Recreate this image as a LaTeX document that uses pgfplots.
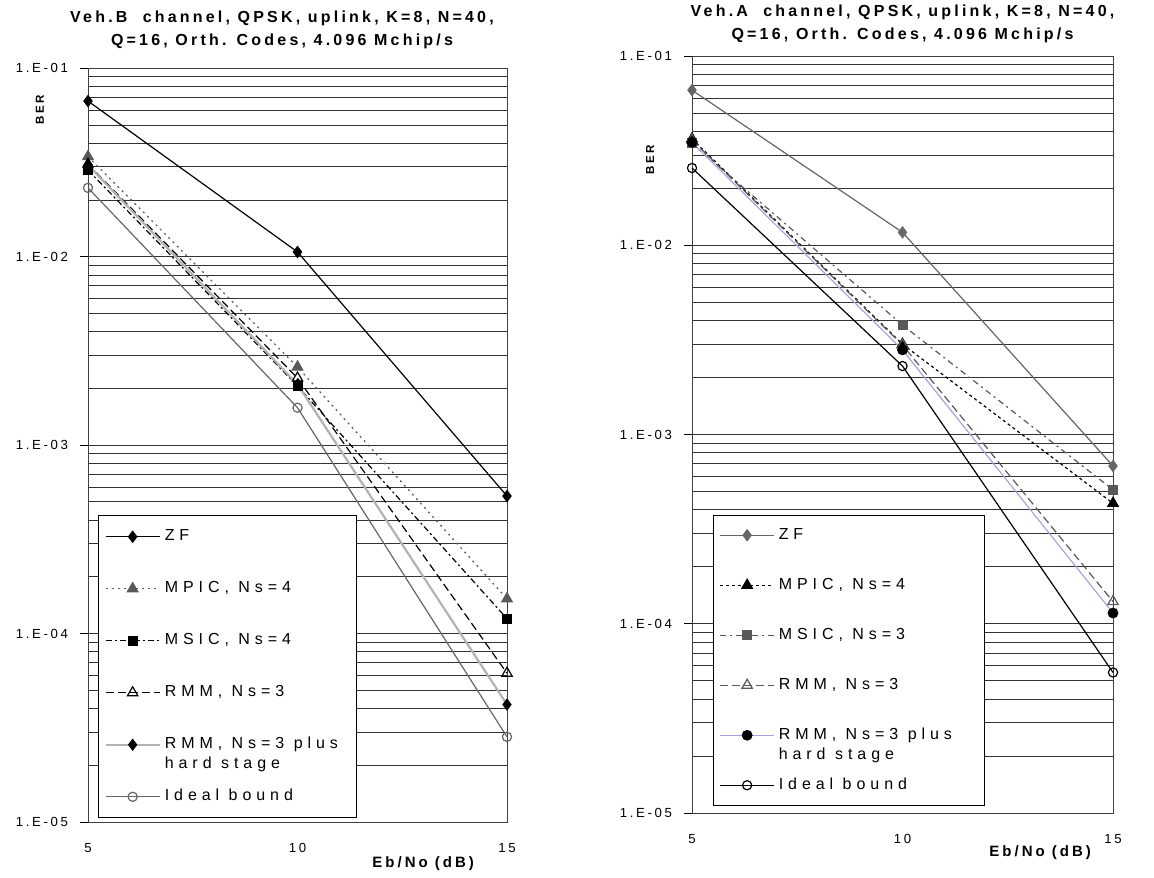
\documentclass[border=0pt]{standalone}
\usepackage{fontspec}
\setmainfont{Liberation Sans}
\newfontfamily\lsTick[LetterSpace=20]{Liberation Sans}
\newfontfamily\lsLeg[LetterSpace=31]{Liberation Sans}
\newfontfamily\lsTit[LetterSpace=20]{Liberation Sans}
\usepackage{pgfplots}
\pgfplotsset{compat=1.18}
\definecolor{lav}{RGB}{165,165,225}
\pgfplotsset{
  legend image code/.code={
    \draw[mark repeat=2,mark phase=2,#1] plot coordinates {(0pt,0pt) (13.5pt,0pt) (27pt,0pt)};
  },
}
\begin{document}
\begin{tikzpicture}
\useasboundingbox (0,0) rectangle (577pt,438.5pt);
% ---------------- left ----------------
\begin{axis}[
  ymode=log, xmin=5, xmax=15, ymin=1e-5, ymax=1e-1,
  scale only axis, clip=false,
  xtick={5,10,15}, xticklabels={5,10,15},
  ytick={1e-5,1e-4,1e-3,1e-2,1e-1},
  yticklabels={1.E-05,1.E-04,1.E-03,1.E-02,1.E-01},
  ymajorgrids, yminorgrids,
  grid style={black!80, line width=0.45pt},
  minor grid style={black!80, line width=0.45pt},
  major tick length=4pt, minor tick length=0pt,
  tick align=outside, ytick pos=left,
  xtick style={draw=none},
  ytick style={black, line width=0.45pt},
  axis line style={black!75, line width=0.5pt},
  ticklabel style={font=\lsTick\fontsize{6.6}{7.5}\selectfont},
  yticklabel style={anchor=east, xshift=-2.5pt},
  xticklabel style={anchor=center, yshift=-9pt},
  ylabel={BER},
  ylabel style={font=\lsTit\bfseries\fontsize{5.8}{7}\selectfont, anchor=center},
  xlabel={Eb/No (dB)},
  xlabel style={font=\lsTit\bfseries\fontsize{7.5}{9}\selectfont, anchor=center},
  title style={font=\lsTit\bfseries\fontsize{8}{11.5}\selectfont, align=center, anchor=south, inner sep=0pt},
  legend cell align=left,
  legend style={anchor=north west, draw=black, line width=0.5pt, fill=white,
    font=\lsLeg\fontsize{8}{11}\selectfont, inner xsep=3pt, inner ysep=5.5pt,
    row sep=16pt, column sep=1pt,
    nodes={inner sep=1pt, text height=6pt, text depth=2pt}},
  at={(44pt,27.5pt)}, anchor=south west,
  width=209.5pt, height=376.85pt,
  title={Veh.B\ \ channel, QPSK, uplink, K=8, N=40,\\Q=16, Orth. Codes, 4.096 Mchip/s},
  title style={at={(axis description cs:0.463,1)}, yshift=3.5pt},
  ylabel style={at={(axis description cs:0,0.945)}, yshift=24pt},
  xlabel style={at={(axis description cs:0.80,0)}, yshift=-21pt},
  legend style={at={(0.024,0.407)}},
]
\addplot[black, line width=0.6pt, mark=diamond*, mark size=2.7pt, mark options={solid, fill=black}]
  coordinates {(5,0.067) (10,0.0106) (15,5.37e-4)};
\addlegendentry{ZF}
\addplot[black!65, line width=0.6pt, dash pattern=on 1pt off 2pt, mark=triangle*, mark size=3pt, mark options={solid, fill=black!65}]
  coordinates {(5,0.034) (10,2.6e-3) (15,1.53e-4)};
\addlegendentry{MPIC, Ns=4}
\addplot[black, line width=0.6pt, dash pattern=on 3pt off 1.5pt on 1pt off 1.5pt, mark=square*, mark size=2.2pt, mark options={solid, fill=black}]
  coordinates {(5,0.0288) (10,2.06e-3) (15,1.2e-4)};
\addlegendentry{MSIC, Ns=4}
\addplot[black, line width=0.6pt, dash pattern=on 4pt off 2pt, mark=triangle, mark size=3pt, mark options={solid, fill=white}]
  coordinates {(5,0.031) (10,2.27e-3) (15,6.16e-5)};
\addlegendentry{RMM, Ns=3}
\addplot[black!30, line width=1.1pt, mark=diamond*, mark size=2.7pt, mark options={solid, draw=black, fill=black, line width=0.5pt}]
  coordinates {(5,0.0307) (10,2.1e-3) (15,4.2e-5)};
\addlegendentry{\begin{tabular}[t]{@{}l@{}}RMM, Ns=3 plus\\[-1pt]hard stage\end{tabular}}
\addplot[black!60, line width=0.6pt, mark=o, mark size=2.3pt, mark options={solid, draw=black!60, fill=white}]
  coordinates {(5,0.0232) (10,1.58e-3) (15,2.83e-5)};
\addlegendentry{\makebox[92pt][l]{Ideal bound}}
\end{axis}
% ---------------- right ----------------
\begin{axis}[
  ymode=log, xmin=5, xmax=15, ymin=1e-5, ymax=1e-1,
  scale only axis, clip=false,
  xtick={5,10,15}, xticklabels={5,10,15},
  ytick={1e-5,1e-4,1e-3,1e-2,1e-1},
  yticklabels={1.E-05,1.E-04,1.E-03,1.E-02,1.E-01},
  ymajorgrids, yminorgrids,
  grid style={black!80, line width=0.45pt},
  minor grid style={black!80, line width=0.45pt},
  major tick length=4pt, minor tick length=0pt,
  tick align=outside, ytick pos=left,
  xtick style={draw=none},
  ytick style={black, line width=0.45pt},
  axis line style={black!75, line width=0.5pt},
  ticklabel style={font=\lsTick\fontsize{6.6}{7.5}\selectfont},
  yticklabel style={anchor=east, xshift=-2.5pt},
  xticklabel style={anchor=center, yshift=-9pt},
  ylabel={BER},
  ylabel style={font=\lsTit\bfseries\fontsize{5.8}{7}\selectfont, anchor=center},
  xlabel={Eb/No (dB)},
  xlabel style={font=\lsTit\bfseries\fontsize{7.5}{9}\selectfont, anchor=center},
  title style={font=\lsTit\bfseries\fontsize{8}{11.5}\selectfont, align=center, anchor=south, inner sep=0pt},
  legend cell align=left,
  legend style={anchor=north west, draw=black, line width=0.5pt, fill=white,
    font=\lsLeg\fontsize{8}{11}\selectfont, inner xsep=3pt, inner ysep=5pt,
    row sep=15pt, column sep=1pt,
    nodes={inner sep=1pt, text height=6pt, text depth=2pt}},
  at={(346pt,32pt)}, anchor=south west,
  width=210.5pt, height=378.5pt,
  title={Veh.A\ \ channel, QPSK, uplink, K=8, N=40,\\Q=16, Orth. Codes, 4.096 Mchip/s},
  title style={at={(axis description cs:0.5,1)}, yshift=0.5pt},
  ylabel style={at={(axis description cs:0,0.863)}, yshift=21pt},
  xlabel style={at={(axis description cs:0.827,0)}, yshift=-20pt},
  legend style={at={(0.05,0.394)}},
]
\addplot[black!60, line width=0.6pt, mark=diamond*, mark size=2.7pt, mark options={solid, fill=black!60}]
  coordinates {(5,0.066) (10,0.0117) (15,6.82e-4)};
\addlegendentry{ZF}
\addplot[black, line width=0.6pt, dash pattern=on 1.5pt off 1.5pt, mark=triangle*, mark size=3pt, mark options={solid, fill=black}]
  coordinates {(5,0.0365) (10,3.0e-3) (15,4.33e-4)};
\addlegendentry{MPIC, Ns=4}
\addplot[black!65, line width=0.6pt, dash pattern=on 3pt off 2pt on 1pt off 2pt, mark=square*, mark size=2.2pt, mark options={solid, fill=black!65}]
  coordinates {(5,0.0346) (10,3.79e-3) (15,5.1e-4)};
\addlegendentry{MSIC, Ns=3}
\addplot[black!65, line width=0.6pt, dash pattern=on 4pt off 2pt, mark=triangle, mark size=3pt, mark options={solid, fill=white}]
  coordinates {(5,0.036) (10,2.97e-3) (15,1.31e-4)};
\addlegendentry{RMM, Ns=3}
\addplot[lav, line width=0.6pt, mark=*, mark size=2.4pt, mark options={solid, draw=black, fill=black}]
  coordinates {(5,0.035) (10,2.8e-3) (15,1.14e-4)};
\addlegendentry{\begin{tabular}[t]{@{}l@{}}RMM, Ns=3 plus\\[-1pt]hard stage\end{tabular}}
\addplot[black, line width=0.6pt, mark=o, mark size=2.3pt, mark options={solid, draw=black, fill=white}]
  coordinates {(5,0.0256) (10,2.3e-3) (15,5.53e-5)};
\addlegendentry{\makebox[99pt][l]{Ideal bound}}
\end{axis}
\end{tikzpicture}
\end{document}
